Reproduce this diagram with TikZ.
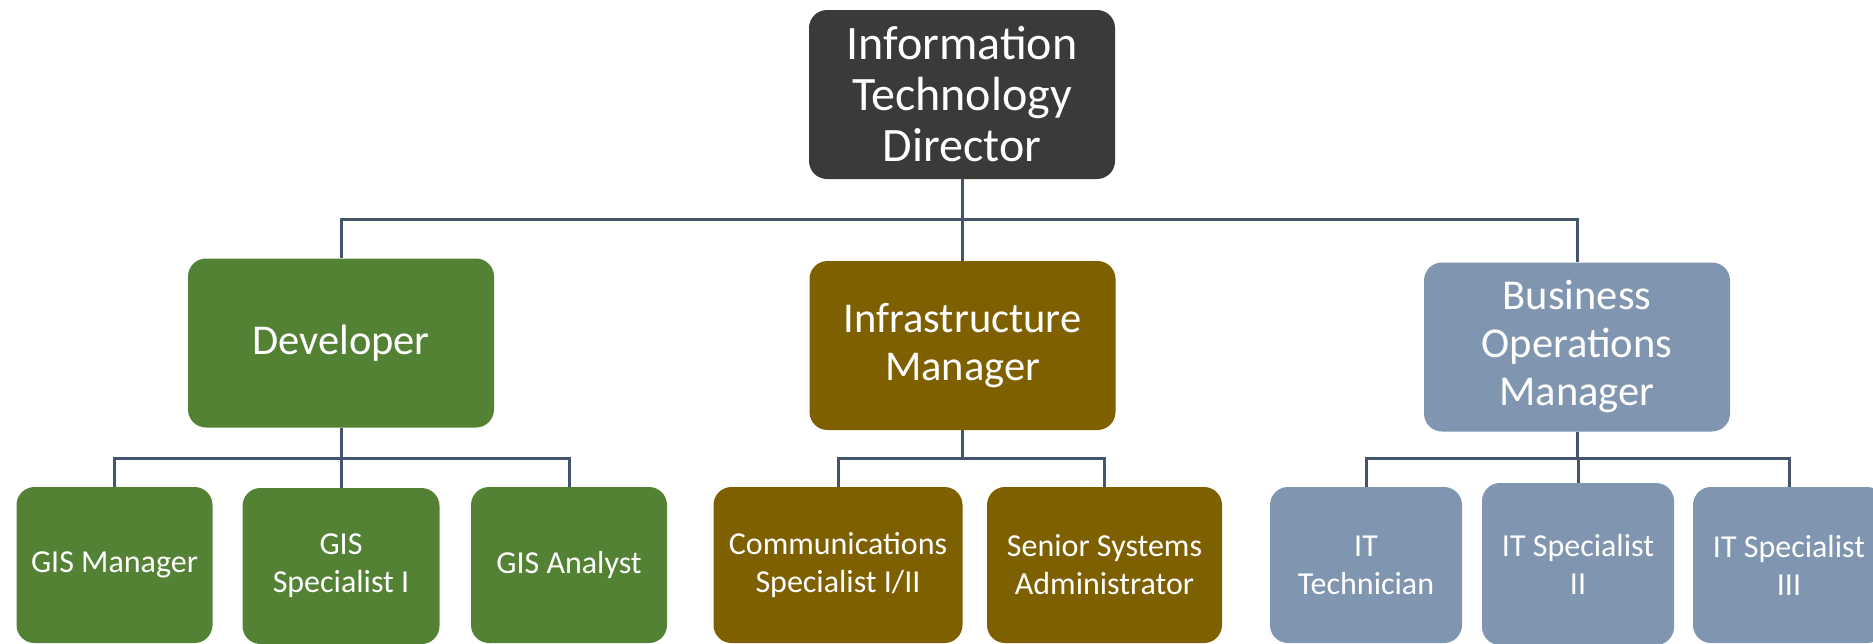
\documentclass[tikz,border=0pt]{standalone}
\usepackage{fontspec}
\setmainfont{Carlito}
\definecolor{directorgray}{HTML}{3A3A38}
\definecolor{devgreen}{HTML}{548235}
\definecolor{infrabrown}{HTML}{7F6000}
\definecolor{opsblue}{HTML}{8096B0}
\definecolor{linkslate}{HTML}{44546A}
\begin{document}
\begin{tikzpicture}[x=1pt, y=-1pt,
	box/.style={rounded corners=18pt, text=white, align=center, inner sep=0pt},
	head/.style={box, minimum width=306pt, minimum height=169pt, font=\fontsize{42.5}{48}\selectfont},
	staff/.style={box, minimum height=156pt, font=\fontsize{32}{38}\selectfont},
	link/.style={draw=linkslate, line width=3pt}]
				\clip (0,0) rectangle (1873,643);
				
				%director
				\node (itdir) [head, fill=directorgray, font=\fontsize{48}{51}\selectfont] at (962, 94.5){Information\\Technology\\Director};
				
				%managers
				\node (dev) [head, fill=devgreen] at (341, 343){Developer};
				\node (infra) [head, fill=infrabrown] at (962.5, 345.5){Infrastructure\\Manager};
				\node (busops) [head, fill=opsblue] at (1577, 347){Business\\Operations\\Manager};
				
				%staff
				\node (gism) [staff, fill=devgreen, minimum width=196pt] at (114.5, 565){GIS Manager};
				\node (giss) [staff, fill=devgreen, minimum width=197pt] at (341, 566){GIS\\Specialist I};
				\node (gisa) [staff, fill=devgreen, minimum width=196pt] at (569, 565){GIS Analyst};
				\node (comm) [staff, fill=infrabrown, minimum width=249pt] at (838, 565){Communications\\Specialist I/II};
				\node (sen) [staff, fill=infrabrown, minimum width=235pt] at (1104.5, 565){Senior Systems\\Administrator};
				\node (ittech) [staff, fill=opsblue, minimum width=192pt] at (1366, 565){IT\\Technician};
				\node (its2) [staff, fill=opsblue, minimum width=192pt, minimum height=162pt] at (1578, 564){IT Specialist\\II};
				\node (its3) [staff, fill=opsblue, minimum width=192pt] at (1789, 565){IT Specialist\\III};
				
				%connectors
				\coordinate (topbus) at (962, 219);
				\coordinate (devbus) at (341, 458);
				\coordinate (infbus) at (962.5, 458);
				\coordinate (opsbus) at (1577, 458);
				\foreach \n in {dev, infra, busops}{
					\draw[link] (itdir.south) -- (topbus) -| (\n.north);
				}
				\foreach \n in {gism, giss, gisa}{
					\draw[link] (dev.south) -- (devbus) -| (\n.north);
				}
				\foreach \n in {comm, sen}{
					\draw[link] (infra.south) -- (infbus) -| (\n.north);
				}
				\foreach \n in {ittech, its2, its3}{
					\draw[link] (busops.south) -- (opsbus) -| (\n.north);
				}
\end{tikzpicture}
\end{document}
